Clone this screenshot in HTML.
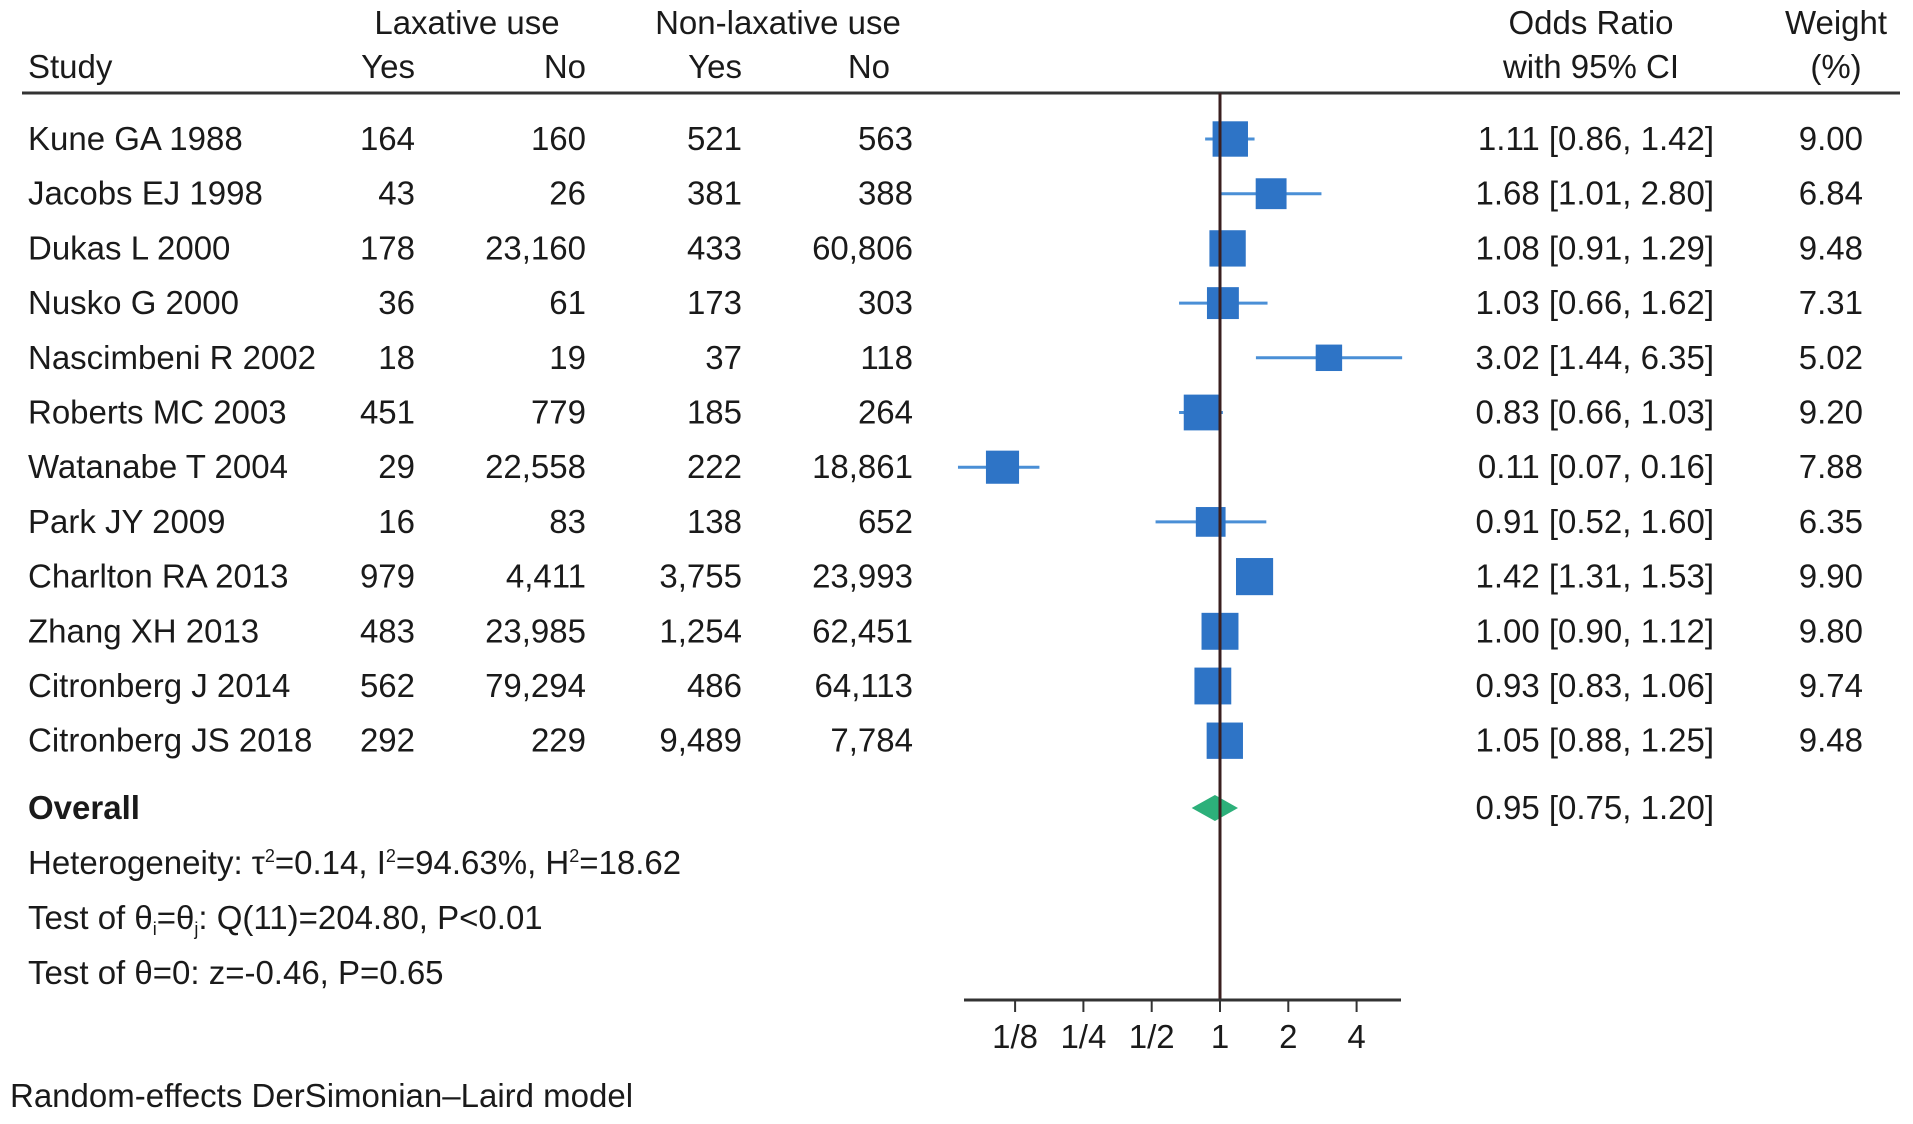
<!DOCTYPE html>
<html><head><meta charset="utf-8"><style>
html,body{margin:0;padding:0;background:#fff;}
svg text{font-family:"Liberation Sans",Arial,sans-serif;font-size:33px;fill:#1a1a1a;}
</style></head><body>
<svg id="fp" width="1913" height="1119" xmlns="http://www.w3.org/2000/svg">
<g>
<text x="467" y="34" text-anchor="middle">Laxative use</text>
<text x="778" y="34" text-anchor="middle">Non-laxative use</text>
<text x="1591" y="34" text-anchor="middle">Odds Ratio</text>
<text x="1836" y="34" text-anchor="middle">Weight</text>
<text x="28" y="78">Study</text>
<text x="415" y="78" text-anchor="end">Yes</text>
<text x="586" y="78" text-anchor="end">No</text>
<text x="742" y="78" text-anchor="end">Yes</text>
<text x="890" y="78" text-anchor="end">No</text>
<text x="1591" y="78" text-anchor="middle">with 95% CI</text>
<text x="1836" y="78" text-anchor="middle">(%)</text>
<line x1="22" y1="93" x2="1900" y2="93" stroke="#333" stroke-width="3"/>
</g>
<g id="rows"></g>
<g id="marks"></g>
<line id="refline" x1="1220" y1="93" x2="1220" y2="1000" stroke="#3a1f1f" stroke-width="3"/>
<g id="axis"></g>
<text x="28" y="819" font-weight="bold">Overall</text>
<text x="1714" y="819" text-anchor="end">0.95 [0.75, 1.20]</text>
<text x="28" y="874">Heterogeneity: τ<tspan dy="-12" font-size="18">2</tspan><tspan dy="12">=0.14, I</tspan><tspan dy="-12" font-size="18">2</tspan><tspan dy="12">=94.63%, H</tspan><tspan dy="-12" font-size="18">2</tspan><tspan dy="12">=18.62</tspan></text>
<text x="28" y="929">Test of θ<tspan dy="6" font-size="18">i</tspan><tspan dy="-6">=θ</tspan><tspan dy="6" font-size="18">j</tspan><tspan dy="-6">: Q(11)=204.80, P&lt;0.01</tspan></text>
<text x="28" y="984">Test of θ=0: z=-0.46, P=0.65</text>
<text x="10" y="1107">Random-effects DerSimonian–Laird model</text>
</svg>
<script>
const studies=["Kune GA 1988","Jacobs EJ 1998","Dukas L 2000","Nusko G 2000","Nascimbeni R 2002","Roberts MC 2003","Watanabe T 2004","Park JY 2009","Charlton RA 2013","Zhang XH 2013","Citronberg J 2014","Citronberg JS 2018"];
const laxYes=["164","43","178","36","18","451","29","16","979","483","562","292"];
const laxNo=["160","26","23,160","61","19","779","22,558","83","4,411","23,985","79,294","229"];
const nonYes=["521","381","433","173","37","185","222","138","3,755","1,254","486","9,489"];
const nonNo=["563","388","60,806","303","118","264","18,861","652","23,993","62,451","64,113","7,784"];
const orVal=[1.11,1.68,1.08,1.03,3.02,0.83,0.11,0.91,1.42,1.00,0.93,1.05];
const ciLo=[0.86,1.01,0.91,0.66,1.44,0.66,0.07,0.52,1.31,0.90,0.83,0.88];
const ciHi=[1.42,2.80,1.29,1.62,6.35,1.03,0.16,1.60,1.53,1.12,1.06,1.25];
const weights=[9.00,6.84,9.48,7.31,5.02,9.20,7.88,6.35,9.90,9.80,9.74,9.48];
const overall=[0.95,0.75,1.20];
const ticks=[0.125,0.25,0.5,1,2,4];
const tickLabels=["1/8","1/4","1/2","1","2","4"];
const NS="http://www.w3.org/2000/svg";
const X=v=>1220+68.3*Math.log2(v);
const Y=i=>139+54.7*i;
const f2=v=>v.toFixed(2);
function mk(tag,attrs,parent,txt){const e=document.createElementNS(NS,tag);for(const k in attrs)e.setAttribute(k,attrs[k]);if(txt!==undefined)e.textContent=txt;parent.appendChild(e);return e;}
const rows=document.getElementById('rows'),marks=document.getElementById('marks'),axis=document.getElementById('axis');
studies.forEach((s,i)=>{
 const y=Y(i)+11;
 let t=mk('text',{x:28,y:y},rows,s);
 
 
 [[laxYes,415],[laxNo,586],[nonYes,742],[nonNo,913]].forEach(([arr,x])=>{
  const c=mk('text',{x:x,y:y,'text-anchor':'end'},rows,arr[i]);
  
  
 });
 const o=mk('text',{x:1714,y:y,'text-anchor':'end'},rows,f2(orVal[i])+" ["+f2(ciLo[i])+", "+f2(ciHi[i])+"]");
 
 
 const w=mk('text',{x:1863,y:y,'text-anchor':'end'},rows,f2(weights[i]));
 
 
 const ln=mk('line',{x1:X(ciLo[i]),x2:X(ciHi[i]),y1:Y(i),y2:Y(i),stroke:'#4a8fd6','stroke-width':3},marks);
 
 
 const sz=11.8*Math.sqrt(weights[i]);
 const sq=mk('rect',{x:X(orVal[i])-sz/2,y:Y(i)-sz/2,width:sz,height:sz,fill:'#2e74c6'},marks);
 
 
});
const oy=808;
const d=mk('polygon',{points:`${X(overall[1])},${oy} ${X(overall[0])},${oy-13} ${X(overall[2])},${oy} ${X(overall[0])},${oy+13}`,fill:'#2cb07a'},marks);


const al=mk('line',{x1:964,x2:1401,y1:1000,y2:1000,stroke:'#333','stroke-width':3},axis);


ticks.forEach((v,i)=>{
 const tk=mk('line',{x1:X(v),x2:X(v),y1:1000,y2:1012,stroke:'#333','stroke-width':2},axis);
 
 
 const tl=mk('text',{x:X(v),y:1048,'text-anchor':'middle'},axis,tickLabels[i]);
 
 
});
</script>
</body></html>
